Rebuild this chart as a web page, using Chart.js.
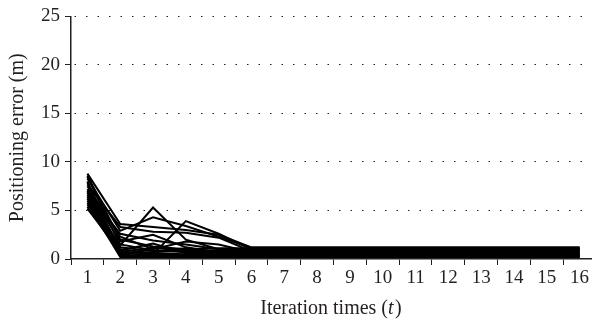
<!DOCTYPE html>
<html>
<head>
<meta charset="utf-8">
<script src="https://cdn.jsdelivr.net/npm/chart.js@4"></script>
<style>
  html, body { margin: 0; padding: 0; background: #fff; overflow: hidden; }
  #wrap { width: 592px; height: 320px; overflow: hidden; }
</style>
</head>
<body>
<div id="wrap"><canvas id="chart" width="596" height="320"></canvas></div>
<script>
// iteration index on the x axis
const iterations = ['1','2','3','4','5','6','7','8','9','10','11','12','13','14','15','16'];
const yTicks = [0, 5, 10, 15, 20, 25];

// positioning error (m) of each run
const run01 = [8.8, 3.6, 3.3, 3.0, 2.5, 1.2, 1.2, 1.2, 1.2, 1.2, 1.2, 1.2, 1.2, 1.2, 1.2, 1.2];
const run02 = [8.5, 1.4, 5.3, 2.0, 1.0, 0.9, 0.9, 0.9, 0.9, 0.9, 0.9, 0.9, 0.9, 0.9, 0.9, 0.9];
const run03 = [8.3, 2.9, 4.3, 3.4, 2.3, 1.1, 1.1, 1.1, 1.1, 1.1, 1.1, 1.1, 1.1, 1.1, 1.1, 1.1];
const run04 = [8.0, 0.6, 0.5, 3.9, 2.6, 1.0, 1.0, 1.0, 1.0, 1.0, 1.0, 1.0, 1.0, 1.0, 1.0, 1.0];
const run05 = [7.7, 3.3, 2.8, 2.7, 2.2, 0.8, 0.8, 0.8, 0.8, 0.8, 0.8, 0.8, 0.8, 0.8, 0.8, 0.8];
const run06 = [7.5, 2.3, 1.0, 1.8, 1.5, 0.7, 0.7, 0.7, 0.7, 0.7, 0.7, 0.7, 0.7, 0.7, 0.7, 0.7];
const run07 = [7.2, 1.8, 2.5, 1.2, 0.7, 0.6, 0.6, 0.6, 0.6, 0.6, 0.6, 0.6, 0.6, 0.6, 0.6, 0.6];
const run08 = [7.0, 1.2, 0.8, 1.1, 0.5, 0.5, 0.5, 0.5, 0.5, 0.5, 0.5, 0.5, 0.5, 0.5, 0.5, 0.5];
const run09 = [6.8, 0.9, 1.6, 0.6, 0.4, 0.4, 0.4, 0.4, 0.4, 0.4, 0.4, 0.4, 0.4, 0.4, 0.4, 0.4];
const run10 = [6.6, 0.4, 0.3, 0.3, 0.3, 0.3, 0.3, 0.3, 0.3, 0.3, 0.3, 0.3, 0.3, 0.3, 0.3, 0.3];
const run11 = [6.4, 1.0, 0.6, 0.5, 0.5, 0.5, 0.5, 0.5, 0.5, 0.5, 0.5, 0.5, 0.5, 0.5, 0.5, 0.5];
const run12 = [6.2, 0.3, 1.2, 0.8, 0.9, 0.9, 0.9, 0.9, 0.9, 0.9, 0.9, 0.9, 0.9, 0.9, 0.9, 0.9];
const run13 = [6.0, 0.7, 0.4, 0.4, 0.4, 0.4, 0.4, 0.4, 0.4, 0.4, 0.4, 0.4, 0.4, 0.4, 0.4, 0.4];
const run14 = [5.8, 0.2, 0.2, 0.2, 0.2, 0.2, 0.2, 0.2, 0.2, 0.2, 0.2, 0.2, 0.2, 0.2, 0.2, 0.2];
const run15 = [5.6, 1.5, 0.9, 0.7, 0.6, 0.6, 0.6, 0.6, 0.6, 0.6, 0.6, 0.6, 0.6, 0.6, 0.6, 0.6];
const run16 = [5.4, 0.5, 0.7, 0.9, 0.8, 0.8, 0.8, 0.8, 0.8, 0.8, 0.8, 0.8, 0.8, 0.8, 0.8, 0.8];
const run17 = [5.2, 0.8, 0.5, 0.3, 0.3, 0.3, 0.3, 0.3, 0.3, 0.3, 0.3, 0.3, 0.3, 0.3, 0.3, 0.3];
const run18 = [8.6, 2.0, 1.3, 1.0, 1.1, 1.1, 1.1, 1.1, 1.1, 1.1, 1.1, 1.1, 1.1, 1.1, 1.1, 1.1];
const run19 = [7.9, 0.3, 0.2, 0.2, 0.2, 0.2, 0.2, 0.2, 0.2, 0.2, 0.2, 0.2, 0.2, 0.2, 0.2, 0.2];
const run20 = [6.9, 2.6, 1.9, 1.5, 1.0, 1.0, 1.0, 1.0, 1.0, 1.0, 1.0, 1.0, 1.0, 1.0, 1.0, 1.0];

const runs = [run01, run02, run03, run04, run05, run06, run07, run08, run09, run10,
              run11, run12, run13, run14, run15, run16, run17, run18, run19, run20];

const FONT = '"Liberation Serif", "Times New Roman", serif';
const INK = '#231f20';
const TITLE_SIZE = 20;
const TICK_SIZE = 19;

// x title has an italic t, so it is drawn by hand
const xTitlePlugin = {
  id: 'xTitle',
  afterDraw(chart) {
    const ctx = chart.ctx;
    const parts = [
      ['Iteration times (', 'normal'],
      ['t', 'italic'],
      [')', 'normal'],
    ];
    ctx.save();
    ctx.fillStyle = INK;
    ctx.textBaseline = 'alphabetic';
    let total = 0;
    parts.forEach(([txt, style]) => {
      ctx.font = style + ' ' + TITLE_SIZE + 'px ' + FONT;
      total += ctx.measureText(txt).width + (style === 'italic' ? 1.5 : 0);
    });
    let x = 331 - total / 2;
    parts.forEach(([txt, style]) => {
      ctx.font = style + ' ' + TITLE_SIZE + 'px ' + FONT;
      ctx.fillText(txt, x, 314);
      x += ctx.measureText(txt).width + (style === 'italic' ? 1.5 : 0);
    });
    ctx.restore();
  }
};

new Chart(document.getElementById('chart'), {
  type: 'line',
  data: {
    labels: iterations,
    datasets: runs.map((r, i) => ({
      label: 'run ' + (i + 1),
      data: r,
      borderColor: '#000',
      borderWidth: 2,
      pointRadius: 0,
      tension: 0,
      fill: false,
    })),
  },
  options: {
    responsive: false,
    animation: false,
    layout: { padding: { top: 16, right: 0, left: 0, bottom: 0 } },
    plugins: {
      legend: { display: false },
      tooltip: { enabled: false },
    },
    scales: {
      x: {
        offset: true,
        grid: {
          offset: true,
          drawOnChartArea: false,
          drawTicks: true,
          tickLength: 6,
          tickColor: INK,
          tickWidth: 1,
        },
        border: { display: true, color: INK, width: 1.5 },
        ticks: {
          color: INK,
          font: { family: FONT, size: TICK_SIZE },
          padding: 2,
          maxRotation: 0,
          autoSkip: false,
        },
        afterFit(scale) { scale.height = 61; },
      },
      y: {
        min: 0,
        max: 25,
        afterBuildTicks(scale) { scale.ticks = yTicks.map(v => ({ value: v })); },
        grid: {
          color: (c) => c.tick && c.tick.value === 0 ? 'rgba(0,0,0,0)' : INK,
          lineWidth: 1,
          drawTicks: true,
          tickLength: 6,
          tickColor: INK,
          tickBorderDash: [],
        },
        border: { display: true, color: INK, width: 1.5, dash: [1.5, 10], dashOffset: -3 },
        ticks: {
          color: INK,
          font: { family: FONT, size: TICK_SIZE },
          padding: 5,
        },
        title: {
          display: true,
          text: 'Positioning error (m)',
          color: INK,
          font: { family: FONT, size: TITLE_SIZE },
          padding: { top: 6, bottom: 0 },
        },
        afterFit(scale) { scale.width = 71; },
      },
    },
  },
  plugins: [xTitlePlugin],
});
</script>
</body>
</html>
